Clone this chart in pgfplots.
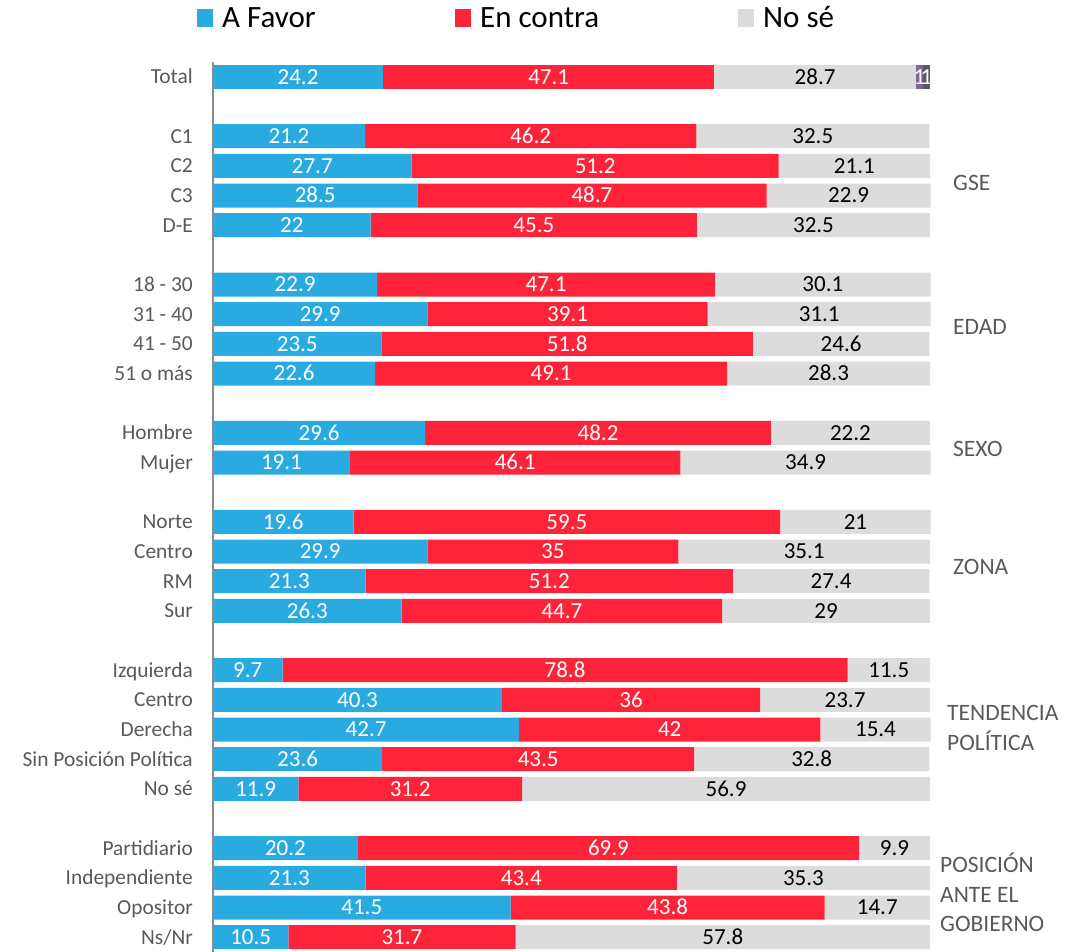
\documentclass[border=0pt]{standalone}
\usepackage{pgfplots}
\pgfplotsset{compat=1.18}
\usepackage{pgfplotstable}
\usepackage{fontspec}
\setmainfont{Carlito}
\definecolor{cblue}{HTML}{29ABE2}
\definecolor{cred}{HTML}{FF2339}
\definecolor{cgray}{HTML}{DCDCDC}
\definecolor{cpurp}{HTML}{8064A2}
\definecolor{cdark}{HTML}{5A5A5A}
\definecolor{ctxt}{HTML}{595959}
\newcommand{\valfont}{\fontsize{23}{26}\selectfont}
\newcommand{\tickfont}{\fontsize{21.4}{24}\selectfont}
\newcommand{\grpfont}{\fontsize{23.5}{28}\selectfont}

\pgfplotstableread{
y a b c
2 21.2 46.2 32.5
3 27.7 51.2 21.1
4 28.5 48.7 22.9
5 22 45.5 32.5
7 22.9 47.1 30.1
8 29.9 39.1 31.1
9 23.5 51.8 24.6
10 22.6 49.1 28.3
12 29.6 48.2 22.2
13 19.1 46.1 34.9
15 19.6 59.5 21
16 29.9 35 35.1
17 21.3 51.2 27.4
18 26.3 44.7 29
20 9.7 78.8 11.5
21 40.3 36 23.7
22 42.7 42 15.4
23 23.6 43.5 32.8
24 11.9 31.2 56.9
26 20.2 69.9 9.9
27 21.3 43.4 35.3
28 41.5 43.8 14.7
29 10.5 31.7 57.8
}\datamain

\pgfplotstableread{
y a b c d e
0 24.2 47.1 28.7 1 1
}\datatotal

\pgfplotsset{
  myax/.style={at={(213pt,-62pt)}, anchor=north west, width=717pt, height=890pt,
    scale only axis, ymin=-0.5, ymax=29.5, y dir=reverse, xmin=0, clip=false},
  lab/.style={only marks, mark=*, mark size=0.01pt, mark options={draw=none,fill=none},
    nodes near coords, point meta=explicit symbolic,
    every node near coord/.append style={anchor=center, font=\valfont, text=#1,
      inner sep=0pt, text height=14.6pt, text depth=0pt}}
}
\tikzset{grp/.style={anchor=west, inner sep=0pt, font=\grpfont, text=ctxt, text height=15.1pt, text depth=0pt}}

\begin{document}
\begin{tikzpicture}[x=1pt,y=1pt]
\path[use as bounding box] (0,0) rectangle (1087,-952);

% legend
\fill[cblue] (197,-9) rectangle (213,-27);
\node[anchor=base west, inner sep=0pt, font=\fontsize{31}{34}\selectfont] at (222,-28) {A Favor};
\fill[cred] (455,-9) rectangle (471,-27);
\node[anchor=base west, inner sep=0pt, font=\fontsize{31}{34}\selectfont] at (480,-28) {En contra};
\fill[cgray] (738,-9) rectangle (754,-27);
\node[anchor=base west, inner sep=0pt, font=\fontsize{31}{34}\selectfont] at (763,-28) {No sé};

% main bars
\begin{axis}[myax, xbar stacked, xmax=100, bar width=24pt,
  axis x line=none, axis y line*=left,
  y axis line style={draw=gray!90, line width=1.6pt, -},
  major tick length=0pt,
  ytick={0,2,3,4,5,7,8,9,10,12,13,15,16,17,18,20,21,22,23,24,26,27,28,29},
  yticklabels={Total,C1,C2,C3,D-E,18 - 30,31 - 40,41 - 50,51 o más,Hombre,Mujer,Norte,Centro,RM,Sur,Izquierda,Centro~,Derecha,Sin Posición Política,No sé,Partidiario~,Independiente,Opositor,Ns/Nr},
  yticklabel style={font=\tickfont, text=ctxt, anchor=east, inner sep=0pt, xshift=-20pt, text height=13.8pt, text depth=0pt}]
\addplot[fill=cblue, draw=none] table[x=a, y=y]{\datamain};
\addplot[fill=cred, draw=none] table[x=b, y=y]{\datamain};
\addplot[fill=cgray, draw=none] table[x=c, y=y]{\datamain};
\node[grp] at (axis cs:100,3.59) [xshift=23pt] {GSE};
\node[grp] at (axis cs:100,8.43) [xshift=23pt] {EDAD};
\node[grp] at (axis cs:100,12.54) [xshift=23pt] {SEXO};
\node[grp] at (axis cs:100,16.52) [xshift=23pt] {ZONA};
\node[grp] at (axis cs:100,21.43) [xshift=17pt] {TENDENCIA};
\node[grp] at (axis cs:100,22.44) [xshift=17pt] {POLÍTICA};
\node[grp] at (axis cs:100,26.58) [xshift=10pt] {POSICIÓN};
\node[grp] at (axis cs:100,27.56) [xshift=10pt] {ANTE EL};
\node[grp] at (axis cs:100,28.54) [xshift=10pt] {GOBIERNO};
\end{axis}

% main labels
\begin{axis}[myax, xmax=100, hide axis]
\addplot[lab=white] table[x expr=\thisrow{a}/2, y=y, meta=a]{\datamain};
\addplot[lab=white] table[x expr=\thisrow{a}+\thisrow{b}/2, y=y, meta=b]{\datamain};
\addplot[lab=black] table[x expr=\thisrow{a}+\thisrow{b}+\thisrow{c}/2, y=y, meta=c]{\datamain};
\end{axis}

% total bars
\begin{axis}[myax, xbar stacked, xmax=102, bar width=24pt, hide axis]
\addplot[fill=cblue, draw=none] table[x=a, y=y]{\datatotal};
\addplot[fill=cred, draw=none] table[x=b, y=y]{\datatotal};
\addplot[fill=cgray, draw=none] table[x=c, y=y]{\datatotal};
\addplot[fill=cpurp, draw=none] table[x=d, y=y]{\datatotal};
\addplot[fill=cdark, draw=none] table[x=e, y=y]{\datatotal};
\end{axis}

% total labels
\begin{axis}[myax, xmax=102, hide axis]
\addplot[lab=white] table[x expr=\thisrow{a}/2, y=y, meta=a]{\datatotal};
\addplot[lab=white] table[x expr=\thisrow{a}+\thisrow{b}/2, y=y, meta=b]{\datatotal};
\addplot[lab=black] table[x expr=\thisrow{a}+\thisrow{b}+\thisrow{c}/2, y=y, meta=c]{\datatotal};
\addplot[lab=white] table[x expr=\thisrow{a}+\thisrow{b}+\thisrow{c}+\thisrow{d}/2, y=y, meta=d]{\datatotal};
\addplot[lab=white] table[x expr=\thisrow{a}+\thisrow{b}+\thisrow{c}+\thisrow{d}+\thisrow{e}/2, y=y, meta=e]{\datatotal};
\end{axis}
\end{tikzpicture}
\end{document}
